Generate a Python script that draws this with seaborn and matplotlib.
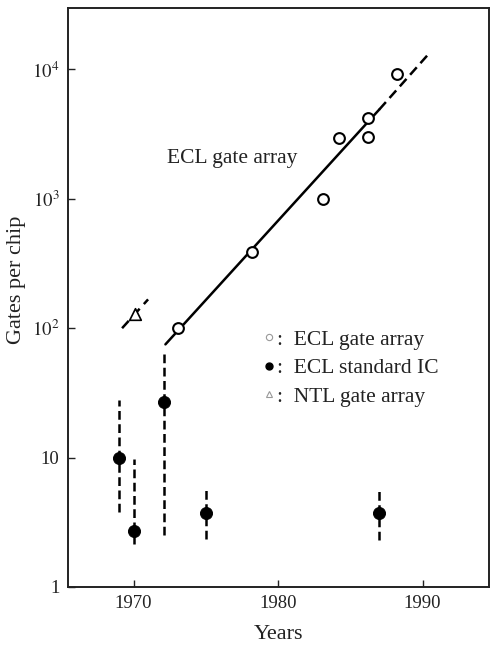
import numpy as np
import pandas as pd
import matplotlib
matplotlib.use("Agg")
import matplotlib.pyplot as plt
import seaborn as sns
from matplotlib.lines import Line2D

# ECL gate array (open circles)
gate_years = [1973.1, 1978.2, 1983.1, 1984.2, 1986.2, 1986.2, 1988.2]
gate_counts = [100, 385, 990, 2950, 4250, 3000, 9300]

# trend line for ECL gate array (solid part, then dashed extrapolation)
trend_solid_years = [1972.2, 1987.0]
trend_solid_gates = [75, 4900]
trend_dash_years = [1987.0, 1990.5]
trend_dash_gates = [4900, 13500]

# ECL standard IC (filled circles with range bars)
std_years = [1969.0, 1970.0, 1972.1, 1975.0, 1987.0]
std_gates = [10, 2.7, 27, 3.75, 3.75]
std_high = [28, 9.7, 65, 5.8, 5.8]
std_low = [3.8, 2.15, 2.5, 2.35, 2.3]

# NTL gate array (triangle)
ntl_years = [1970.1]
ntl_gates = [128]
ntl_line_years = [1969.2, 1971.0]
ntl_line_gates = [100, 167]

ytick_vals = [1, 10, 100, 1000, 10000]
ytick_labels = ["1", "10", r"$10^2$", r"$10^3$", r"$10^4$"]
xtick_vals = [1970, 1980, 1990]

sns.set_theme(style="white")
plt.rcParams["font.family"] = ["Liberation Serif", "DejaVu Serif"]
plt.rcParams["mathtext.fontset"] = "stix"

fig = plt.figure(figsize=(4.92, 6.45), dpi=100)
ax = fig.add_axes([0.138, 0.090, 0.856, 0.898])
ax.set_yscale("log")

# trend lines
sns.lineplot(x=trend_solid_years, y=trend_solid_gates, ax=ax, color="black", lw=1.8)
ax.plot(trend_dash_years, trend_dash_gates, color="black", lw=1.8, dashes=(4, 2.2))
ax.plot(ntl_line_years, ntl_line_gates, color="black", lw=1.8, dashes=(4, 2.5))

# range bars for standard IC
for yr, lo, hi in zip(std_years, std_low, std_high):
    ax.plot([yr, yr], [lo, hi], color="black", lw=1.8, dashes=(3.5, 1.8))

gate_df = pd.DataFrame({"year": gate_years, "gates": gate_counts})
sns.scatterplot(data=gate_df, x="year", y="gates", ax=ax, marker="o", s=60,
                facecolor="white", edgecolor="black", linewidth=1.5, zorder=5)
std_df = pd.DataFrame({"year": std_years, "gates": std_gates})
sns.scatterplot(data=std_df, x="year", y="gates", ax=ax, marker="o", s=75,
                color="black", edgecolor="black", zorder=5)
ntl_df = pd.DataFrame({"year": ntl_years, "gates": ntl_gates})
sns.scatterplot(data=ntl_df, x="year", y="gates", ax=ax, marker="^", s=70,
                facecolor="white", edgecolor="black", linewidth=1.2, zorder=5)

ax.text(1972.3, 2050, "ECL gate array", fontsize=15.5, va="center", ha="left", color="#222222")

# legend
handles = [
    Line2D([], [], ls="none", marker="o", ms=4.5, mfc="white", mec="#999999", mew=0.8),
    Line2D([], [], ls="none", marker="o", ms=5, mfc="black", mec="black"),
    Line2D([], [], ls="none", marker="^", ms=5, mfc="white", mec="#999999", mew=0.8),
]
labels = [":  ECL gate array", ":  ECL standard IC", ":  NTL gate array"]
ax.legend(handles, labels, loc="upper left", bbox_to_anchor=(0.415, 0.478), frameon=False,
          fontsize=15.5, handlelength=0.6, handletextpad=0.1, labelspacing=0.4,
          labelcolor="#222222")

ax.set_xlim(1965.45, 1994.6)
ax.set_ylim(1, 30000)
ax.set_xticks(xtick_vals)
ax.set_xticklabels([str(v) for v in xtick_vals])
ax.set_yticks(ytick_vals)
ax.set_yticklabels(ytick_labels)
ax.yaxis.set_minor_locator(matplotlib.ticker.NullLocator())
ax.tick_params(axis="both", direction="in", length=5, width=1, labelsize=13.5,
               colors="#222222", left=True, bottom=True, pad=6)
for sp in ax.spines.values():
    sp.set_color("#222222")
    sp.set_linewidth(1.4)

ax.set_xlabel("Years", fontsize=16, color="#222222", labelpad=9)
ax.set_ylabel("Gates per chip", fontsize=16, color="#222222")
ax.yaxis.set_label_coords(-0.10, 0.53)

fig.savefig("out.png", dpi=100)
